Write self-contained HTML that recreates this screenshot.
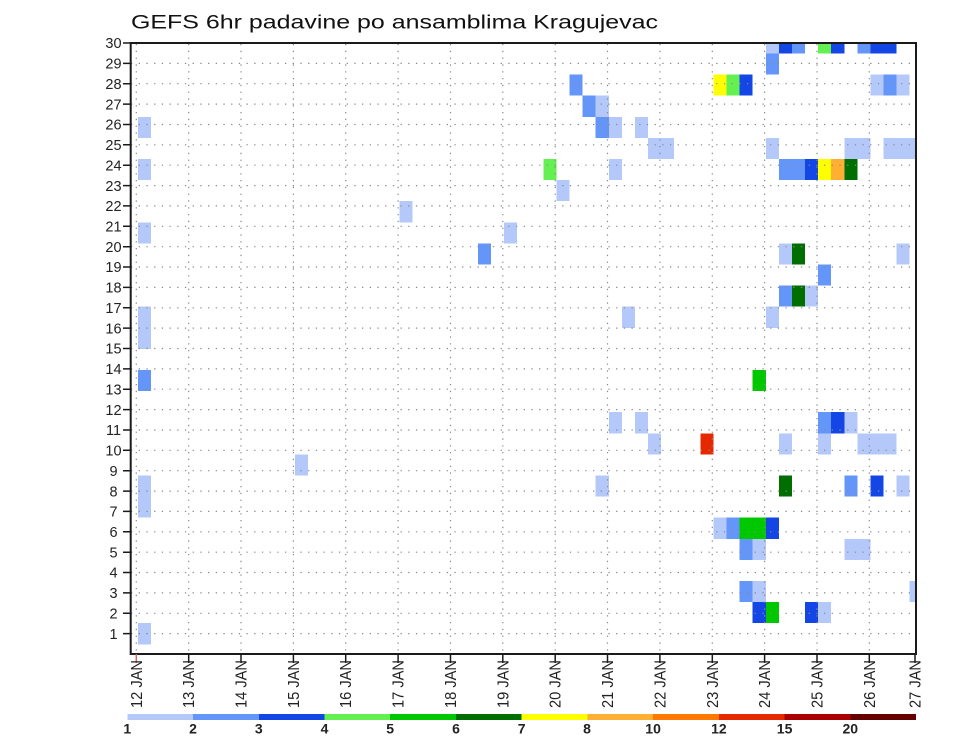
<!DOCTYPE html>
<html><head><meta charset="utf-8"><style>
html,body{margin:0;padding:0;background:#fff;}
svg{display:block;}
text{font-family:"Liberation Sans",sans-serif;}
</style></head><body>
<svg width="960" height="742" viewBox="0 0 960 742" xmlns="http://www.w3.org/2000/svg">
<rect x="0" y="0" width="960" height="742" fill="#fff"/>
<text x="131" y="28.3" font-size="19" fill="#111" textLength="527" lengthAdjust="spacingAndGlyphs">GEFS 6hr padavine po ansamblima Kragujevac</text>

<g shape-rendering="crispEdges">
<!-- j=28 -->
<rect x="765.8" y="43" width="13.1" height="10.5" fill="#b4c8fa"/>
<rect x="778.9" y="43" width="13.1" height="10.5" fill="#1446e6"/>
<rect x="792.0" y="43" width="13.1" height="10.5" fill="#6496fa"/>
<rect x="818.1" y="43" width="13.1" height="10.5" fill="#64f050"/>
<rect x="831.2" y="43" width="13.1" height="10.5" fill="#1446e6"/>
<rect x="857.4" y="43" width="13.1" height="10.5" fill="#6496fa"/>
<rect x="870.5" y="43" width="26.2" height="10.5" fill="#1446e6"/>
<!-- j=27 -->
<rect x="765.8" y="53.5" width="13.1" height="21.1" fill="#6496fa"/>
<!-- j=26 -->
<rect x="569.5" y="74.6" width="13.1" height="21.1" fill="#6496fa"/>
<rect x="713.5" y="74.6" width="13.1" height="21.1" fill="#ffff00"/>
<rect x="726.5" y="74.6" width="13.1" height="21.1" fill="#64f050"/>
<rect x="739.6" y="74.6" width="13.1" height="21.1" fill="#1446e6"/>
<rect x="870.5" y="74.6" width="13.1" height="21.1" fill="#b4c8fa"/>
<rect x="883.5" y="74.6" width="13.1" height="21.1" fill="#6496fa"/>
<rect x="896.6" y="74.6" width="13.1" height="21.1" fill="#b4c8fa"/>
<!-- j=25 -->
<rect x="582.6" y="95.7" width="13.1" height="21.1" fill="#6496fa"/>
<rect x="595.7" y="95.7" width="13.1" height="21.1" fill="#b4c8fa"/>
<!-- j=24 -->
<rect x="137.8" y="116.8" width="13.1" height="21.1" fill="#b4c8fa"/>
<rect x="595.7" y="116.8" width="13.1" height="21.1" fill="#6496fa"/>
<rect x="608.8" y="116.8" width="13.1" height="21.1" fill="#b4c8fa"/>
<rect x="635.0" y="116.8" width="13.1" height="21.1" fill="#b4c8fa"/>
<!-- j=23 -->
<rect x="648.0" y="137.9" width="26.2" height="21.1" fill="#b4c8fa"/>
<rect x="765.8" y="137.9" width="13.1" height="21.1" fill="#b4c8fa"/>
<rect x="844.3" y="137.9" width="26.2" height="21.1" fill="#b4c8fa"/>
<rect x="883.5" y="137.9" width="32.5" height="21.1" fill="#b4c8fa"/>
<!-- j=22 -->
<rect x="137.8" y="159.0" width="13.1" height="21.1" fill="#b4c8fa"/>
<rect x="543.4" y="159.0" width="13.1" height="21.1" fill="#64f050"/>
<rect x="608.8" y="159.0" width="13.1" height="21.1" fill="#b4c8fa"/>
<rect x="778.9" y="159.0" width="26.2" height="21.1" fill="#6496fa"/>
<rect x="805.0" y="159.0" width="13.1" height="21.1" fill="#1446e6"/>
<rect x="818.1" y="159.0" width="13.1" height="21.1" fill="#ffff00"/>
<rect x="831.2" y="159.0" width="13.1" height="21.1" fill="#ffaf32"/>
<rect x="844.3" y="159.0" width="13.1" height="21.1" fill="#006e00"/>
<!-- j=21 -->
<rect x="556.5" y="180.1" width="13.1" height="21.1" fill="#b4c8fa"/>
<!-- j=20 -->
<rect x="399.5" y="201.2" width="13.1" height="21.1" fill="#b4c8fa"/>
<!-- j=19 -->
<rect x="137.8" y="222.3" width="13.1" height="21.1" fill="#b4c8fa"/>
<rect x="504.1" y="222.3" width="13.1" height="21.1" fill="#b4c8fa"/>
<!-- j=18 -->
<rect x="478.0" y="243.4" width="13.1" height="21.1" fill="#6496fa"/>
<rect x="778.9" y="243.4" width="13.1" height="21.1" fill="#b4c8fa"/>
<rect x="792.0" y="243.4" width="13.1" height="21.1" fill="#006e00"/>
<rect x="896.6" y="243.4" width="13.1" height="21.1" fill="#b4c8fa"/>
<!-- j=17 -->
<rect x="818.1" y="264.5" width="13.1" height="21.1" fill="#6496fa"/>
<!-- j=16 -->
<rect x="778.9" y="285.6" width="13.1" height="21.1" fill="#6496fa"/>
<rect x="792.0" y="285.6" width="13.1" height="21.1" fill="#006e00"/>
<rect x="805.0" y="285.6" width="13.1" height="21.1" fill="#b4c8fa"/>
<!-- j=15 -->
<rect x="137.8" y="306.7" width="13.1" height="42.2" fill="#b4c8fa"/>
<rect x="621.9" y="306.7" width="13.1" height="21.1" fill="#b4c8fa"/>
<rect x="765.8" y="306.7" width="13.1" height="21.1" fill="#b4c8fa"/>
<!-- j=12 -->
<rect x="137.8" y="370.0" width="13.1" height="21.1" fill="#6496fa"/>
<rect x="752.7" y="370.0" width="13.1" height="21.1" fill="#00c800"/>
<!-- j=10 -->
<rect x="608.8" y="412.2" width="13.1" height="21.1" fill="#b4c8fa"/>
<rect x="635.0" y="412.2" width="13.1" height="21.1" fill="#b4c8fa"/>
<rect x="818.1" y="412.2" width="13.1" height="21.1" fill="#6496fa"/>
<rect x="831.2" y="412.2" width="13.1" height="21.1" fill="#1446e6"/>
<rect x="844.3" y="412.2" width="13.1" height="21.1" fill="#b4c8fa"/>
<!-- j=9 -->
<rect x="648.0" y="433.3" width="13.1" height="21.1" fill="#b4c8fa"/>
<rect x="700.4" y="433.3" width="13.1" height="21.1" fill="#e62800"/>
<rect x="778.9" y="433.3" width="13.1" height="21.1" fill="#b4c8fa"/>
<rect x="818.1" y="433.3" width="13.1" height="21.1" fill="#b4c8fa"/>
<rect x="857.4" y="433.3" width="39.3" height="21.1" fill="#b4c8fa"/>
<!-- j=8 -->
<rect x="294.8" y="454.4" width="13.1" height="21.1" fill="#b4c8fa"/>
<!-- j=7 -->
<rect x="137.8" y="475.5" width="13.1" height="42.2" fill="#b4c8fa"/>
<rect x="595.7" y="475.5" width="13.1" height="21.1" fill="#b4c8fa"/>
<rect x="778.9" y="475.5" width="13.1" height="21.1" fill="#006e00"/>
<rect x="844.3" y="475.5" width="13.1" height="21.1" fill="#6496fa"/>
<rect x="870.5" y="475.5" width="13.1" height="21.1" fill="#1446e6"/>
<rect x="896.6" y="475.5" width="13.1" height="21.1" fill="#b4c8fa"/>
<!-- j=5 -->
<rect x="713.5" y="517.7" width="13.1" height="21.1" fill="#b4c8fa"/>
<rect x="726.5" y="517.7" width="13.1" height="21.1" fill="#6496fa"/>
<rect x="739.6" y="517.7" width="26.2" height="21.1" fill="#00c800"/>
<rect x="765.8" y="517.7" width="13.1" height="21.1" fill="#1446e6"/>
<!-- j=4 -->
<rect x="739.6" y="538.8" width="13.1" height="21.1" fill="#6496fa"/>
<rect x="752.7" y="538.8" width="13.1" height="21.1" fill="#b4c8fa"/>
<rect x="844.3" y="538.8" width="26.2" height="21.1" fill="#b4c8fa"/>
<!-- j=2 -->
<rect x="739.6" y="581.0" width="13.1" height="21.1" fill="#6496fa"/>
<rect x="752.7" y="581.0" width="13.1" height="21.1" fill="#b4c8fa"/>
<rect x="909.7" y="581.0" width="6.3" height="21.1" fill="#b4c8fa"/>
<!-- j=1 -->
<rect x="752.7" y="602.1" width="13.1" height="21.1" fill="#1446e6"/>
<rect x="765.8" y="602.1" width="13.1" height="21.1" fill="#00c800"/>
<rect x="805.0" y="602.1" width="13.1" height="21.1" fill="#1446e6"/>
<rect x="818.1" y="602.1" width="13.1" height="21.1" fill="#b4c8fa"/>
<!-- j=0 -->
<rect x="137.8" y="623.2" width="13.1" height="21.1" fill="#b4c8fa"/>
</g>

<!-- grid -->
<g stroke="#8a8a8a" stroke-width="1.2" stroke-dasharray="1.3 6.4" fill="none">
<path d="M131 633.6H916M131 613.3H916M131 592.9H916M131 572.5H916M131 552.2H916M131 531.8H916M131 511.4H916M131 491.1H916M131 470.7H916M131 450.3H916M131 430.0H916M131 409.6H916M131 389.2H916M131 368.9H916M131 348.5H916M131 328.1H916M131 307.8H916M131 287.4H916M131 267.0H916M131 246.7H916M131 226.3H916M131 205.9H916M131 185.6H916M131 165.2H916M131 144.8H916M131 124.5H916M131 104.1H916M131 83.7H916M131 63.4H916"/>
</g>
<g stroke="#8a8a8a" stroke-width="1.2" stroke-dasharray="1.3 5.5" fill="none">
<path d="M136.3 44V654M188.7 44V654M241.0 44V654M293.4 44V654M345.7 44V654M398.1 44V654M450.5 44V654M502.8 44V654M555.2 44V654M607.5 44V654M659.9 44V654M712.3 44V654M764.6 44V654M817.0 44V654M869.3 44V654"/>
</g>

<!-- frame -->
<rect x="130.7" y="43" width="785.3" height="611" fill="none" stroke="#1a1a1a" stroke-width="2"/>

<!-- y ticks -->
<g stroke="#1a1a1a" stroke-width="1.5">
<path d="M123 633.6H131M123 613.3H131M123 592.9H131M123 572.5H131M123 552.2H131M123 531.8H131M123 511.4H131M123 491.1H131M123 470.7H131M123 450.3H131M123 430.0H131M123 409.6H131M123 389.2H131M123 368.9H131M123 348.5H131M123 328.1H131M123 307.8H131M123 287.4H131M123 267.0H131M123 246.7H131M123 226.3H131M123 205.9H131M123 185.6H131M123 165.2H131M123 144.8H131M123 124.5H131M123 104.1H131M123 83.7H131M123 63.4H131M123 43H131"/>
</g>
<!-- x ticks -->
<g stroke="#1a1a1a" stroke-width="1.5">
<path d="M188.7 654V663M241.0 654V663M293.4 654V663M345.7 654V663M398.1 654V663M450.5 654V663M502.8 654V663M555.2 654V663M607.5 654V663M659.9 654V663M712.3 654V663M764.6 654V663M817.0 654V663M869.3 654V663M915 654V663"/>
</g>
<path d="M136.3 654V663" stroke="#c86a6a" stroke-width="1.5"/>

<!-- y labels -->
<g font-size="14.5" fill="#222" text-anchor="middle">
<text x="113.5" y="638.8">1</text>
<text x="113.5" y="618.5">2</text>
<text x="113.5" y="598.1">3</text>
<text x="113.5" y="577.7">4</text>
<text x="113.5" y="557.4">5</text>
<text x="113.5" y="537.0">6</text>
<text x="113.5" y="516.6">7</text>
<text x="113.5" y="496.3">8</text>
<text x="113.5" y="475.9">9</text>
<text x="113.5" y="455.5">10</text>
<text x="113.5" y="435.2">11</text>
<text x="113.5" y="414.8">12</text>
<text x="113.5" y="394.4">13</text>
<text x="113.5" y="374.1">14</text>
<text x="113.5" y="353.7">15</text>
<text x="113.5" y="333.3">16</text>
<text x="113.5" y="313.0">17</text>
<text x="113.5" y="292.6">18</text>
<text x="113.5" y="272.2">19</text>
<text x="113.5" y="251.9">20</text>
<text x="113.5" y="231.5">21</text>
<text x="113.5" y="211.1">22</text>
<text x="113.5" y="190.8">23</text>
<text x="113.5" y="170.4">24</text>
<text x="113.5" y="150.0">25</text>
<text x="113.5" y="129.7">26</text>
<text x="113.5" y="109.3">27</text>
<text x="113.5" y="88.9">28</text>
<text x="113.5" y="68.6">29</text>
<text x="113.5" y="48.2">30</text>
</g>

<!-- x labels -->
<g font-size="16" fill="#222" text-anchor="end">
<text transform="translate(141.8 660) rotate(-90)" textLength="48" lengthAdjust="spacingAndGlyphs">12 JAN</text>
<text transform="translate(194.2 660) rotate(-90)" textLength="48" lengthAdjust="spacingAndGlyphs">13 JAN</text>
<text transform="translate(246.5 660) rotate(-90)" textLength="48" lengthAdjust="spacingAndGlyphs">14 JAN</text>
<text transform="translate(298.9 660) rotate(-90)" textLength="48" lengthAdjust="spacingAndGlyphs">15 JAN</text>
<text transform="translate(351.2 660) rotate(-90)" textLength="48" lengthAdjust="spacingAndGlyphs">16 JAN</text>
<text transform="translate(403.6 660) rotate(-90)" textLength="48" lengthAdjust="spacingAndGlyphs">17 JAN</text>
<text transform="translate(456.0 660) rotate(-90)" textLength="48" lengthAdjust="spacingAndGlyphs">18 JAN</text>
<text transform="translate(508.3 660) rotate(-90)" textLength="48" lengthAdjust="spacingAndGlyphs">19 JAN</text>
<text transform="translate(560.7 660) rotate(-90)" textLength="48" lengthAdjust="spacingAndGlyphs">20 JAN</text>
<text transform="translate(613.0 660) rotate(-90)" textLength="48" lengthAdjust="spacingAndGlyphs">21 JAN</text>
<text transform="translate(665.4 660) rotate(-90)" textLength="48" lengthAdjust="spacingAndGlyphs">22 JAN</text>
<text transform="translate(717.8 660) rotate(-90)" textLength="48" lengthAdjust="spacingAndGlyphs">23 JAN</text>
<text transform="translate(770.1 660) rotate(-90)" textLength="48" lengthAdjust="spacingAndGlyphs">24 JAN</text>
<text transform="translate(822.5 660) rotate(-90)" textLength="48" lengthAdjust="spacingAndGlyphs">25 JAN</text>
<text transform="translate(874.8 660) rotate(-90)" textLength="48" lengthAdjust="spacingAndGlyphs">26 JAN</text>
<text transform="translate(920.5 660) rotate(-90)" textLength="48" lengthAdjust="spacingAndGlyphs">27 JAN</text>
</g>

<!-- legend -->
<g shape-rendering="crispEdges">
<rect x="127.3" y="714" width="65.8" height="6" fill="#b4c8fa"/>
<rect x="193.0" y="714" width="65.8" height="6" fill="#6496fa"/>
<rect x="258.8" y="714" width="65.8" height="6" fill="#1446e6"/>
<rect x="324.5" y="714" width="65.8" height="6" fill="#64f050"/>
<rect x="390.2" y="714" width="65.8" height="6" fill="#00c800"/>
<rect x="456.0" y="714" width="65.8" height="6" fill="#006e00"/>
<rect x="521.7" y="714" width="65.8" height="6" fill="#ffff00"/>
<rect x="587.4" y="714" width="65.8" height="6" fill="#ffaf32"/>
<rect x="653.1" y="714" width="65.8" height="6" fill="#ff7800"/>
<rect x="718.9" y="714" width="65.8" height="6" fill="#e62800"/>
<rect x="784.6" y="714" width="65.8" height="6" fill="#aa0000"/>
<rect x="850.3" y="714" width="65.7" height="6" fill="#660000"/>
</g>
<g font-size="14" font-weight="bold" fill="#222" text-anchor="middle">
<text x="127.3" y="733.3">1</text>
<text x="193.0" y="733.3">2</text>
<text x="258.8" y="733.3">3</text>
<text x="324.5" y="733.3">4</text>
<text x="390.2" y="733.3">5</text>
<text x="456.0" y="733.3">6</text>
<text x="521.7" y="733.3">7</text>
<text x="587.0" y="733.3">8</text>
<text x="653.1" y="733.3">10</text>
<text x="718.9" y="733.3">12</text>
<text x="784.6" y="733.3">15</text>
<text x="850.3" y="733.3">20</text>
</g>
</svg>
</body></html>
